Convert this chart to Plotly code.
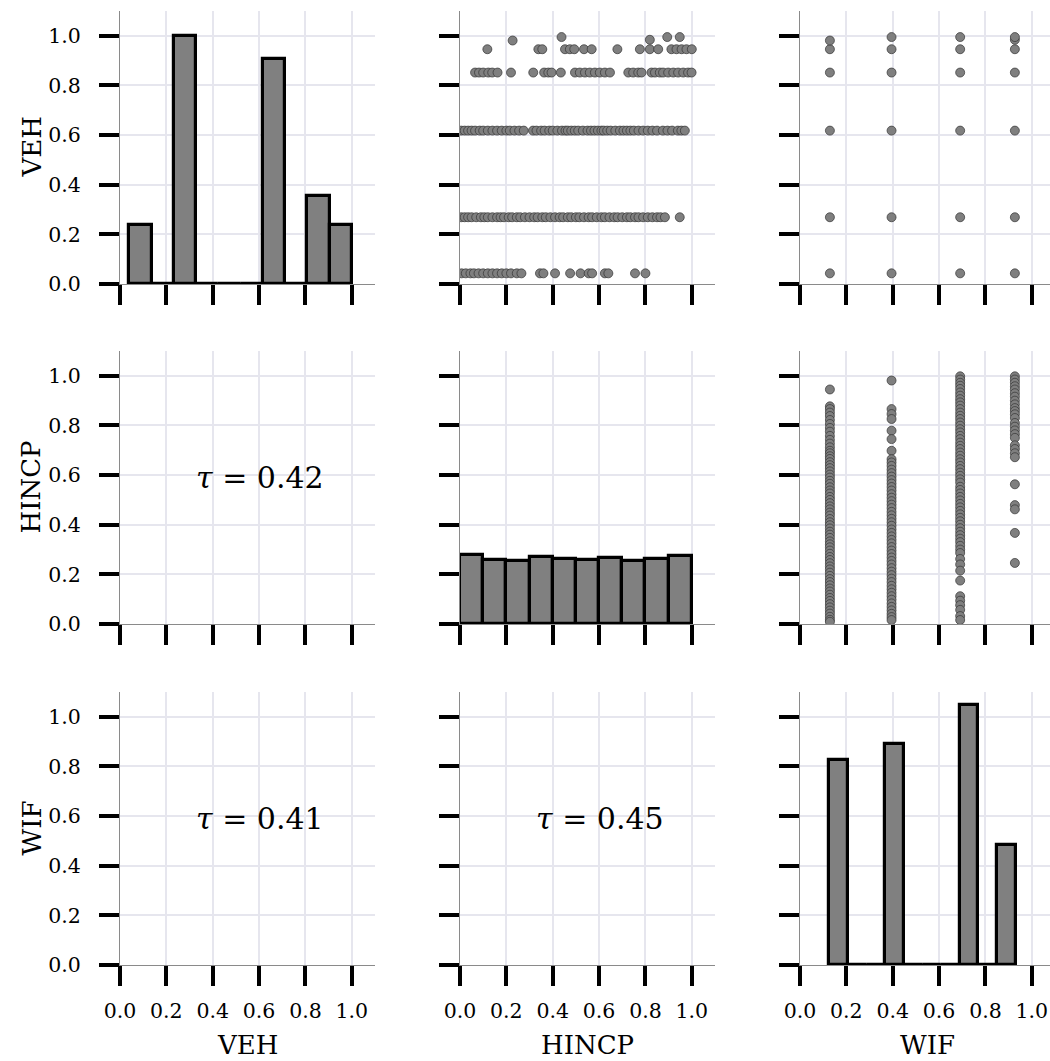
import plotly.graph_objects as go

# ---------------- data ----------------
variables = ["VEH", "HINCP", "WIF"]
tick_vals = [0.0, 0.2, 0.4, 0.6, 0.8, 1.0]
tick_text = ["0.0", "0.2", "0.4", "0.6", "0.8", "1.0"]

# diagonal histograms (bin edges + bar heights)
veh_edges = [0.040, 0.136, 0.232, 0.328, 0.424, 0.520, 0.616, 0.712, 0.808, 0.904, 1.000]
veh_heights = [0.237, 0.0, 1.0, 0.0, 0.0, 0.0, 0.908, 0.0, 0.356, 0.237]

hincp_edges = [0.0, 0.1, 0.2, 0.3, 0.4, 0.5, 0.6, 0.7, 0.8, 0.9, 1.0]
hincp_heights = [0.279, 0.259, 0.254, 0.270, 0.262, 0.258, 0.266, 0.255, 0.262, 0.275]

wif_edges = [0.127, 0.207, 0.288, 0.368, 0.448, 0.529, 0.609, 0.689, 0.770, 0.850, 0.930]
wif_heights = [0.825, 0.0, 0.0, 0.891, 0.0, 0.0, 0.0, 1.047, 0.0, 0.482]

# VEH levels and WIF levels
veh_levels = [0.043, 0.269, 0.618, 0.852, 0.946]
wif_levels = [0.129, 0.395, 0.691, 0.927]

# HINCP (x) values observed at each VEH level (top-middle panel)
hincp_at_veh_043 = [0.007, 0.025, 0.045, 0.06, 0.08, 0.10, 0.12, 0.14, 0.16, 0.18, 0.20, 0.22,
                    0.245, 0.265, 0.345, 0.36, 0.41, 0.475, 0.52, 0.555, 0.57, 0.625, 0.64,
                    0.755, 0.80]
hincp_at_veh_269 = [0.005, 0.02, 0.035, 0.05, 0.07, 0.09, 0.105, 0.12, 0.14, 0.16, 0.175, 0.19,
                    0.21, 0.225, 0.245, 0.26, 0.28, 0.30, 0.32, 0.335, 0.355, 0.37, 0.39, 0.41,
                    0.43, 0.445, 0.465, 0.48, 0.50, 0.515, 0.535, 0.555, 0.57, 0.59, 0.61, 0.625,
                    0.645, 0.665, 0.68, 0.70, 0.72, 0.735, 0.755, 0.77, 0.79, 0.81, 0.83, 0.85,
                    0.865, 0.884, 0.948]
hincp_at_veh_618 = [0.005, 0.02, 0.035, 0.05, 0.065, 0.085, 0.10, 0.12, 0.14, 0.16, 0.18, 0.20,
                    0.215, 0.235, 0.255, 0.275, 0.315, 0.33, 0.35, 0.365, 0.385, 0.40, 0.42,
                    0.44, 0.455, 0.465, 0.48, 0.495, 0.51, 0.53, 0.55, 0.565, 0.58, 0.595, 0.61,
                    0.62, 0.635, 0.65, 0.67, 0.69, 0.705, 0.72, 0.735, 0.75, 0.77, 0.79, 0.81,
                    0.83, 0.85, 0.875, 0.895, 0.915, 0.94, 0.955, 0.97]
hincp_at_veh_852 = [0.065, 0.082, 0.10, 0.122, 0.139, 0.162, 0.22, 0.316, 0.363, 0.381, 0.395,
                    0.435, 0.496, 0.517, 0.539, 0.560, 0.582, 0.603, 0.625, 0.647, 0.726, 0.747,
                    0.769, 0.783, 0.826, 0.841, 0.862, 0.876, 0.898, 0.920, 0.941, 0.963, 0.984,
                    0.999]
hincp_at_veh_946 = [0.118, 0.338, 0.355, 0.453, 0.474, 0.493, 0.535, 0.568, 0.679, 0.776, 0.819,
                    0.855, 0.912, 0.934, 0.956, 0.977, 1.0]
top_hincp = [0.227, 0.438, 0.819, 0.894, 0.948]
top_veh = [0.981, 0.995, 0.984, 0.995, 0.995]

# VEH values observed at each WIF level (top-right panel), beyond the common levels
extra_veh_wif = [0.129, 0.395, 0.691, 0.927, 0.927]
extra_veh_val = [0.981, 0.995, 0.995, 0.984, 0.995]

# HINCP values observed at each WIF level (middle-right panel)
hincp_at_wif_129 = [0.945, 0.877, 0.866, 0.852, 0.838, 0.822, 0.806, 0.79, 0.775, 0.758, 0.742,
                    0.727, 0.712, 0.698, 0.688, 0.676, 0.665, 0.652, 0.64, 0.628, 0.615, 0.602,
                    0.59, 0.577, 0.565, 0.551, 0.538, 0.526, 0.512, 0.5, 0.487, 0.474, 0.462,
                    0.449, 0.437, 0.423, 0.41, 0.398, 0.385, 0.372, 0.36, 0.347, 0.333, 0.321,
                    0.309, 0.296, 0.283, 0.27, 0.258, 0.245, 0.232, 0.22, 0.207, 0.194, 0.181,
                    0.169, 0.156, 0.143, 0.131, 0.118, 0.105, 0.093, 0.08, 0.067, 0.054, 0.042,
                    0.029, 0.017, 0.009]
hincp_at_wif_395 = [0.981, 0.866, 0.846, 0.826, 0.779, 0.745, 0.698, 0.664, 0.651, 0.637, 0.622,
                    0.608, 0.594, 0.58, 0.566, 0.552, 0.538, 0.523, 0.509, 0.495, 0.481, 0.467,
                    0.452, 0.438, 0.424, 0.41, 0.396, 0.381, 0.367, 0.353, 0.339, 0.325, 0.31,
                    0.296, 0.282, 0.268, 0.254, 0.24, 0.225, 0.211, 0.197, 0.183, 0.169, 0.154,
                    0.14, 0.126, 0.112, 0.098, 0.083, 0.069, 0.055, 0.041, 0.028, 0.016]
hincp_at_wif_691 = [0.998, 0.985, 0.972, 0.96, 0.947, 0.933, 0.92, 0.906, 0.893, 0.88, 0.866,
                    0.852, 0.839, 0.826, 0.812, 0.799, 0.785, 0.772, 0.758, 0.745, 0.731, 0.718,
                    0.705, 0.691, 0.678, 0.664, 0.651, 0.637, 0.624, 0.61, 0.597, 0.583, 0.57,
                    0.553, 0.54, 0.526, 0.512, 0.498, 0.484, 0.47, 0.456, 0.442, 0.428, 0.414,
                    0.4, 0.386, 0.372, 0.358, 0.344, 0.33, 0.315, 0.3, 0.286, 0.262, 0.24, 0.215,
                    0.175, 0.112, 0.094, 0.076, 0.057, 0.032, 0.016]
hincp_at_wif_927 = [0.998, 0.985, 0.972, 0.958, 0.945, 0.93, 0.916, 0.9, 0.885, 0.87, 0.858,
                    0.845, 0.83, 0.81, 0.795, 0.78, 0.765, 0.75, 0.72, 0.705, 0.688, 0.672,
                    0.563, 0.479, 0.462, 0.367, 0.246]

# Kendall tau values for lower panels: (row, col, text)
tau_values = [(1, 0, "0.42"), (2, 0, "0.41"), (2, 1, "0.45")]

# ---------------- styling / layout ----------------
W, H = 1050, 1061
FONT = "DejaVu Serif"
BAR_FILL = "#808080"
GRID = "#E6E6EE"
col_px = [(120, 375), (460, 715), (800, 1050)]
row_px = [(11, 284), (351, 624), (692, 965)]
PX_PER_UNIT = 231.8

fig = go.Figure()


def axname(r, c):
    i = r * 3 + c + 1
    return ("x" if i == 1 else f"x{i}"), ("y" if i == 1 else f"y{i}")


def add_hist(r, c, edges, heights):
    xa, ya = axname(r, c)
    centers = [(edges[i] + edges[i + 1]) / 2 for i in range(len(heights))]
    widths = [edges[i + 1] - edges[i] for i in range(len(heights))]
    nz = [i for i, h in enumerate(heights) if h > 0]
    first, last = nz[0], nz[-1]
    fig.add_trace(go.Scatter(x=[edges[first], edges[last + 1]], y=[0, 0], mode="lines",
                             line=dict(color="black", width=3), xaxis=xa, yaxis=ya,
                             showlegend=False, hoverinfo="skip"))
    fig.add_trace(go.Bar(x=centers, y=heights, width=widths,
                         marker=dict(color=BAR_FILL, line=dict(color="black", width=3.2)),
                         xaxis=xa, yaxis=ya, showlegend=False))


def add_scatter(r, c, xs, ys):
    xa, ya = axname(r, c)
    fig.add_trace(go.Scatter(x=xs, y=ys, mode="markers",
                             marker=dict(size=9, color="#7f7f7f",
                                         line=dict(color="#333333", width=0.7)),
                             xaxis=xa, yaxis=ya, showlegend=False))


add_hist(0, 0, veh_edges, veh_heights)
add_hist(1, 1, hincp_edges, hincp_heights)
add_hist(2, 2, wif_edges, wif_heights)

# top-middle: x=HINCP, y=VEH
tm_groups = [hincp_at_veh_043, hincp_at_veh_269, hincp_at_veh_618, hincp_at_veh_852, hincp_at_veh_946]
tm_x, tm_y = [], []
for lvl, xs in zip(veh_levels, tm_groups):
    tm_x += xs
    tm_y += [lvl] * len(xs)
tm_x += top_hincp
tm_y += top_veh
add_scatter(0, 1, tm_x, tm_y)

# top-right: x=WIF, y=VEH
tr_x, tr_y = [], []
for w in wif_levels:
    for v in veh_levels:
        tr_x.append(w)
        tr_y.append(v)
tr_x += extra_veh_wif
tr_y += extra_veh_val
add_scatter(0, 2, tr_x, tr_y)

# middle-right: x=WIF, y=HINCP
mr_groups = [hincp_at_wif_129, hincp_at_wif_395, hincp_at_wif_691, hincp_at_wif_927]
mr_x, mr_y = [], []
for w, ys in zip(wif_levels, mr_groups):
    mr_x += [w] * len(ys)
    mr_y += ys
add_scatter(1, 2, mr_x, mr_y)

layout = dict(width=W, height=H, margin=dict(l=0, r=0, t=0, b=0, autoexpand=False),
              autosize=False, paper_bgcolor="white", plot_bgcolor="white", bargap=0,
              font=dict(family=FONT, color="black"))
annotations = []
for r in range(3):
    for c in range(3):
        i = r * 3 + c + 1
        xk = "xaxis" if i == 1 else f"xaxis{i}"
        yk = "yaxis" if i == 1 else f"yaxis{i}"
        xa, ya = axname(r, c)
        x0, x1 = col_px[c]
        y0, y1 = row_px[r]
        common = dict(showgrid=True, gridcolor=GRID, gridwidth=2.2, zeroline=False,
                      showline=True, linecolor="#8a8a8a", linewidth=1.2,
                      ticks="outside", ticklen=20, tickwidth=3.5, tickcolor="black",
                      tickvals=tick_vals, ticktext=tick_text,
                      tickfont=dict(family=FONT, size=20.5, color="black"),
                      fixedrange=True, automargin=False)
        layout[xk] = dict(common, domain=[x0 / W, x1 / W], anchor=ya,
                          range=[0, (x1 - x0) / PX_PER_UNIT],
                          showticklabels=(r == 2), ticklabelstandoff=7)
        layout[yk] = dict(common, domain=[(H - y1) / H, (H - y0) / H], anchor=xa,
                          range=[0, 1.1], showticklabels=(c == 0), ticklabelstandoff=14)

# axis titles
for c, name in enumerate(variables):
    annotations.append(dict(text=name, xref="paper", yref="paper",
                            x=(col_px[c][0] + 1.1 * PX_PER_UNIT / 2) / W,
                            y=(H - 1045) / H, xanchor="center", yanchor="middle",
                            showarrow=False, font=dict(family=FONT, size=26, color="black")))
for r, name in enumerate(variables):
    annotations.append(dict(text=name, xref="paper", yref="paper",
                            x=31 / W, y=(H - (row_px[r][0] + row_px[r][1]) / 2) / H,
                            xanchor="center", yanchor="middle", textangle=-90,
                            showarrow=False, font=dict(family=FONT, size=26, color="black")))

for r, c, t in tau_values:
    xa, ya = axname(r, c)
    annotations.append(dict(text=f"<i>τ</i> = {t}", xref=xa, yref=ya, x=0.604, y=0.59,
                            xanchor="center", yanchor="middle", showarrow=False,
                            font=dict(family=FONT, size=30, color="black")))

layout["annotations"] = annotations
fig.update_layout(**layout)
fig.write_html("out.html")
